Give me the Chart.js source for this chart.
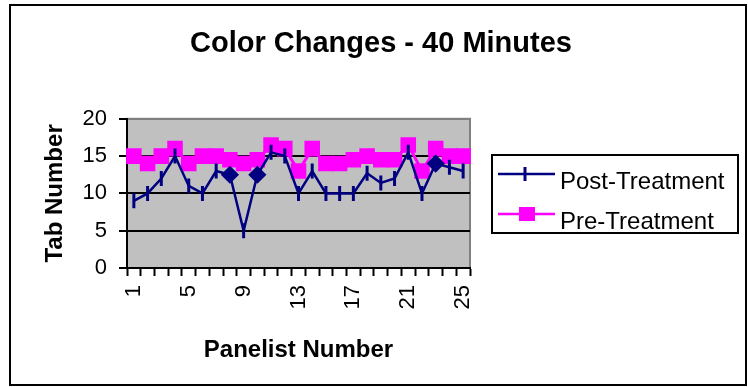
<!DOCTYPE html>
<html>
<head>
<meta charset="utf-8">
<script src="https://cdn.jsdelivr.net/npm/chart.js@4/dist/chart.umd.min.js"></script>
<style>
	html, body { margin: 0; padding: 0; background: #fff; }
	canvas { display: block; }
</style>
</head>
<body>
<canvas id="chart" width="748" height="387"></canvas>
<script>
'use strict';

const panelists = ['1', '2', '3', '4', '5', '6', '7', '8', '9', '10', '11', '12', '13',
	'14', '15', '16', '17', '18', '19', '20', '21', '22', '23', '24', '25'];
const shownLabels = ['1', '5', '9', '13', '17', '21', '25'];
const yTicks = [0, 5, 10, 15, 20];

const postTreatment = [9, 10, 12, 15, 11, 10, 13, 12.5, 5, 12.5, 15.5, 15, 10,
	13, 10, 10, 10, 12.7, 11.4, 12, 15.5, 10, 14, 13.5, 13];
const preTreatment = [15, 14, 15, 16, 14, 15, 15, 14.5, 14, 14.5, 16.5, 16, 13,
	16, 14, 14, 14.5, 15, 14.5, 14.5, 16.5, 13, 16, 15, 15];

// points drawn as diamonds in the original post-treatment series
const postDiamonds = ['8', '10', '23'];

const NAVY = '#000080';
const MAGENTA = '#FF00FF';
const FONT = '"Liberation Sans", Arial, sans-serif';

const postStyles = panelists.map(p => postDiamonds.includes(p) ? 'rectRot' : 'line');
const postRadius = panelists.map(p => postDiamonds.includes(p) ? 7 : 7.5);

// grey plot area + outer frame
const framePlugin = {
	id: 'frame',
	beforeDraw: chart => {
		const { ctx, chartArea: a } = chart;
		ctx.save();
		ctx.fillStyle = '#fff';
		ctx.fillRect(0, 0, chart.width, chart.height);
		ctx.strokeStyle = '#000';
		ctx.lineWidth = 2;
		ctx.strokeRect(10, 5, 736, 380);
		ctx.fillStyle = '#C0C0C0';
		ctx.fillRect(a.left, a.top, a.right - a.left, a.bottom - a.top);
		ctx.strokeStyle = '#808080';
		ctx.lineWidth = 2;
		ctx.strokeRect(a.left, a.top, a.right - a.left, a.bottom - a.top);
		ctx.restore();
	}
};

// Excel-like legend: line with marker, inside a black box
const legendPlugin = {
	id: 'boxLegend',
	afterDraw: chart => {
		const { ctx, chartArea: a } = chart;
		const left = a.right + 22;
		const top = 155;
		ctx.save();
		ctx.strokeStyle = '#000';
		ctx.lineWidth = 2;
		ctx.strokeRect(left, top, 246, 78);

		chart.data.datasets.forEach((ds, i) => {
			const ly = top + 19 + i * 40;
			ctx.strokeStyle = ds.borderColor;
			ctx.lineWidth = 2.5;
			ctx.beginPath();
			ctx.moveTo(left + 6, ly);
			ctx.lineTo(left + 63, ly);
			ctx.stroke();

			ctx.fillStyle = ds.borderColor;
			if (i === 0) {
				ctx.lineWidth = 3;
				ctx.beginPath();
				ctx.moveTo(left + 33, ly - 7);
				ctx.lineTo(left + 33, ly + 7);
				ctx.stroke();
			} else {
				ctx.fillRect(left + 27, ly - 7, 16, 14);
			}

			ctx.fillStyle = '#000';
			ctx.font = '24px ' + FONT;
			ctx.textAlign = 'left';
			ctx.textBaseline = 'middle';
			ctx.fillText(ds.label, left + 68, ly + 8);
		});
		ctx.restore();
	}
};

new Chart(document.getElementById('chart').getContext('2d'), {
	type: 'line',
	data: {
		labels: panelists,
		datasets: [
			{
				label: 'Post-Treatment',
				data: postTreatment,
				borderColor: NAVY,
				backgroundColor: NAVY,
				borderWidth: 2.5,
				pointStyle: postStyles,
				pointRadius: postRadius,
				pointRotation: 90,
				pointBorderWidth: 3,
				pointBorderColor: NAVY,
				pointBackgroundColor: NAVY,
				tension: 0,
				fill: false
			},
			{
				label: 'Pre-Treatment',
				data: preTreatment,
				borderColor: MAGENTA,
				backgroundColor: MAGENTA,
				borderWidth: 3,
				pointStyle: 'rect',
				pointRadius: 11,
				pointBorderWidth: 0,
				pointBackgroundColor: MAGENTA,
				tension: 0,
				fill: false
			}
		]
	},
	options: {
		responsive: false,
		animation: false,
		devicePixelRatio: 1,
		layout: { padding: { left: 14, right: 0, top: 0, bottom: 0 } },
		plugins: {
			legend: { display: false },
			tooltip: { enabled: false },
			title: {
				display: true,
				text: 'Color Changes - 40 Minutes',
				color: '#000',
				font: { family: FONT, size: 29, weight: 'bold' },
				padding: { top: 27, bottom: 57 }
			}
		},
		scales: {
			x: {
				offset: true,
				grid: {
					offset: true,
					drawOnChartArea: false,
					drawTicks: true,
					tickLength: 8,
					tickColor: '#000',
					tickWidth: 2
				},
				border: { display: true, color: '#000', width: 2 },
				ticks: {
					autoSkip: false,
					maxRotation: 90,
					minRotation: 90,
					padding: 9,
					color: '#000',
					font: { family: FONT, size: 22 },
					callback: function (value) {
						const label = this.getLabelForValue(value);
						return shownLabels.includes(label) ? label : '';
					}
				},
				title: {
					display: true,
					text: 'Panelist Number',
					color: '#000',
					font: { family: FONT, size: 24, weight: 'bold' },
					padding: { top: 0, bottom: 22 }
				},
				afterFit: s => { s.height = 119; }
			},
			y: {
				min: 0,
				max: 20,
				afterBuildTicks: s => { s.ticks = yTicks.map(v => ({ value: v })); },
				grid: {
					color: c => (c.tick && c.tick.value === 20) ? '#808080' : '#000',
					lineWidth: 2,
					drawTicks: true,
					tickLength: 8,
					tickColor: '#000',
					tickWidth: 2
				},
				border: { display: true, color: '#000', width: 2 },
				ticks: {
					padding: 12,
					color: '#000',
					font: { family: FONT, size: 22 }
				},
				title: {
					display: true,
					text: 'Tab Number',
					color: '#000',
					font: { family: FONT, size: 24, weight: 'bold' },
					padding: { top: 27, bottom: 0 }
				},
				afterFit: s => { s.width = 113; }
			},
			// empty right-hand box that keeps room for the legend
			spacer: {
				type: 'linear',
				position: 'right',
				display: true,
				grid: { display: false, drawTicks: false },
				border: { display: false },
				ticks: { display: false },
				afterFit: s => { s.width = 278; }
			}
		}
	},
	plugins: [framePlugin, legendPlugin]
});
</script>
</body>
</html>
